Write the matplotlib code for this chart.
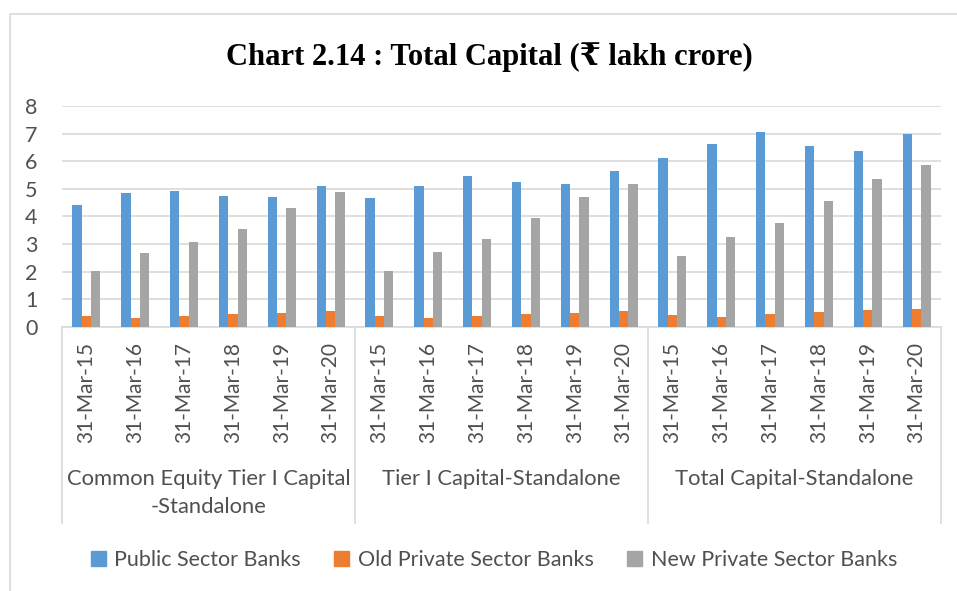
import numpy as np
import matplotlib
matplotlib.use("Agg")
import matplotlib.pyplot as plt
from matplotlib.lines import Line2D
from matplotlib.patches import Rectangle
from matplotlib.transforms import blended_transform_factory

# data (Rs lakh crore)
groups = ["Common Equity Tier I Capital\n-Standalone",
          "Tier I Capital-Standalone",
          "Total Capital-Standalone"]
dates = ["31-Mar-15", "31-Mar-16", "31-Mar-17", "31-Mar-18", "31-Mar-19", "31-Mar-20"]
series = ["Public Sector Banks", "Old Private Sector Banks", "New Private Sector Banks"]

public_banks = [4.41, 4.86, 4.91, 4.74, 4.71, 5.11,
                4.66, 5.12, 5.45, 5.24, 5.16, 5.63,
                6.13, 6.63, 7.05, 6.56, 6.37, 6.98]
old_private = [0.39, 0.34, 0.40, 0.48, 0.51, 0.57,
               0.39, 0.34, 0.40, 0.47, 0.52, 0.58,
               0.44, 0.37, 0.46, 0.54, 0.60, 0.65]
new_private = [2.02, 2.68, 3.07, 3.56, 4.31, 4.87,
               2.02, 2.71, 3.18, 3.93, 4.69, 5.17,
               2.56, 3.27, 3.75, 4.57, 5.37, 5.86]

colors = ["#5b9bd5", "#ed7d31", "#a5a5a5"]
text_col = "#505050"
grid_col = "#d9d9d9"
label_font = ["Lato", "DejaVu Sans"]

W, H = 957, 591
fig = plt.figure(figsize=(W / 100, H / 100), dpi=100)


def fx(px):
    return px / W


def fy(py):
    return 1 - py / H


# chart frame (left and top edges visible)
fig.add_artist(Line2D([fx(10), fx(10), 1.0], [0.0, fy(14), fy(14)],
                      transform=fig.transFigure, color=grid_col, lw=1.2))

fig.text(fx(489), fy(57), "Chart 2.14 : Total Capital (₹ lakh crore)",
         ha="center", va="center", fontsize=22, fontweight="bold",
         family=["Liberation Serif", "DejaVu Serif"], color="black")

ax = fig.add_axes([fx(62), fy(327), fx(941) - fx(62), fy(106) - fy(327)])

n = len(public_banks)
x = np.arange(n)
bw = 0.19
for k, vals in enumerate([public_banks, old_private, new_private]):
    ax.bar(x + (k - 1) * bw, vals, width=bw, color=colors[k], zorder=3)

ax.set_xlim(-0.5, n - 0.5)
ax.set_ylim(0, 8)
ax.set_yticks(range(0, 9))
ax.yaxis.grid(True, color=grid_col, lw=1.2, zorder=0)
ax.set_xticks([])
for s in ["top", "right", "left"]:
    ax.spines[s].set_visible(False)
ax.spines["bottom"].set_color(grid_col)
ax.spines["bottom"].set_linewidth(1.2)
ax.tick_params(axis="y", length=0, pad=22, labelsize=15.5, labelcolor=text_col)
for t in ax.get_yticklabels():
    t.set_family(label_font)
    t.set_horizontalalignment("center")

trans = blended_transform_factory(ax.transData, fig.transFigure)

# date labels
for i in range(n):
    ax.text(x[i], fy(342), dates[i % len(dates)], transform=trans,
            rotation=90, ha="center", va="top", fontsize=15,
            color=text_col, family=label_font)

# group separators and group labels
per = len(dates)
for g in range(len(groups) + 1):
    xb = g * per - 0.5
    ax.add_artist(Line2D([xb, xb], [fy(327), fy(523)], transform=trans,
                         color=grid_col, lw=1.2, clip_on=False))
for g, name in enumerate(groups):
    xc = g * per + (per - 1) / 2
    ax.text(xc, fy(469), name, transform=trans, ha="center", va="top",
            fontsize=15.8, color=text_col, family=label_font, linespacing=1.5)

handles = [Rectangle((0, 0), 1, 1, color=c) for c in colors]
fig.legend(handles, series, loc="center", bbox_to_anchor=(fx(494), fy(560)),
           ncol=3, frameon=False, handlelength=0.7,
           handleheight=0.7, handletextpad=0.4, columnspacing=1.55,
           labelcolor=text_col, prop={"family": label_font, "size": 15.5})

fig.savefig("out.png", dpi=100)
